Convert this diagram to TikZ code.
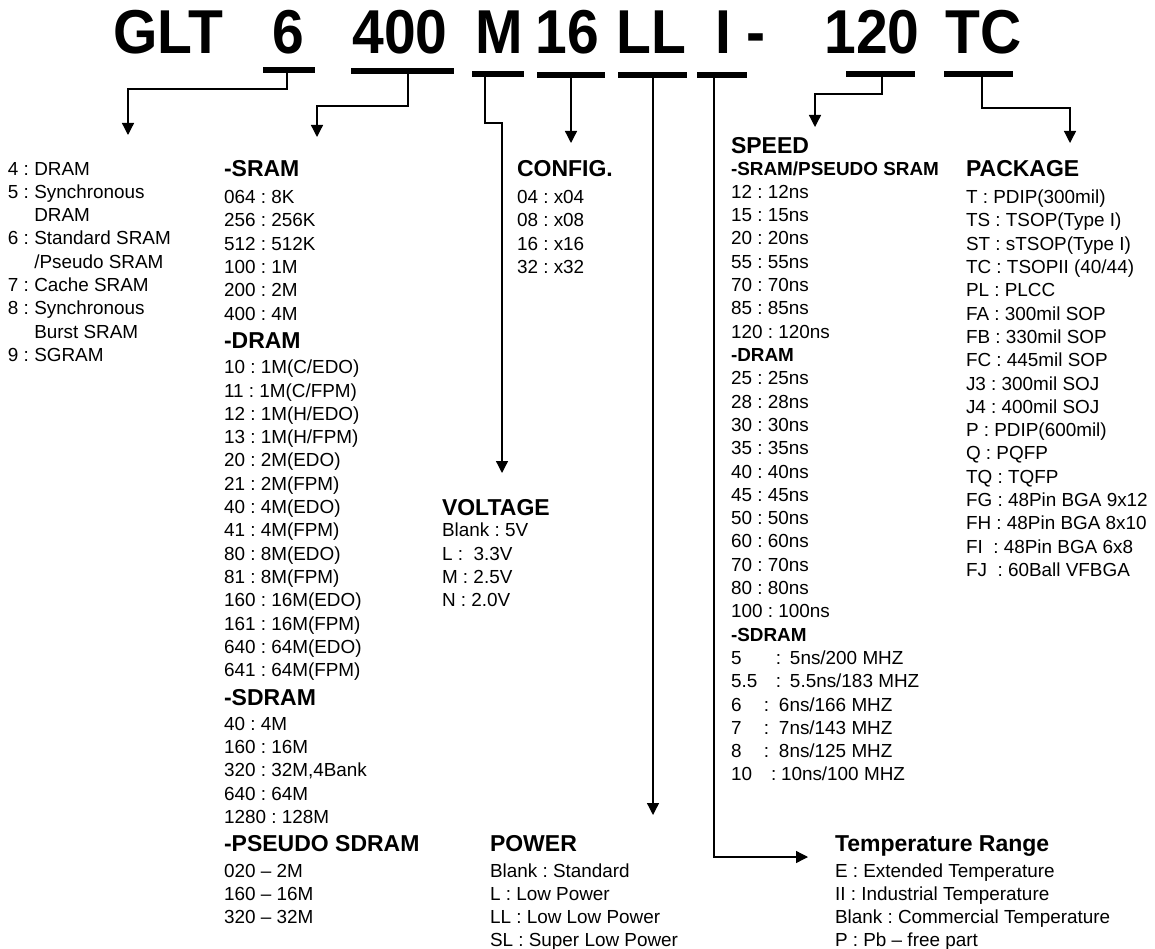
\documentclass[tikz,border=0pt]{standalone}
\usepackage{fontspec}
\setmainfont{Liberation Sans}
\usetikzlibrary{arrows.meta}
\begin{document}
\frenchspacing
\begin{tikzpicture}[x=1pt,y=-1pt,
  txt/.style={font=\fontsize{18.9}{22}\selectfont\frenchspacing, inner sep=0pt, outer sep=0pt, anchor=base west},
  hd/.style={font=\fontsize{23}{26}\selectfont\bfseries, inner sep=0pt, outer sep=0pt, anchor=base west},
  ttl/.style={font=\fontsize{62}{62}\selectfont\bfseries, inner sep=0pt, outer sep=0pt, anchor=base},
  bar/.style={rectangle, fill=black, draw=none, inner sep=0pt, outer sep=0pt, minimum height=6pt},
  conn/.style={line width=1.3pt, -{Triangle[width=12pt,length=12pt]}}]
\useasboundingbox (0,0) rectangle (1155,949);
\fill[white] (0,0) rectangle (1155,949);

% title
\node[ttl] (tGLT) at (168,54) {\scalebox{0.92}[1]{GLT}};
\node[ttl] (t6) at (288,54) {\scalebox{0.92}[1]{6}};
\node[ttl] (t400) at (400,54) {\scalebox{0.92}[1]{400}};
\node[ttl] (tM) at (499,54) {\scalebox{0.92}[1]{M}};
\node[ttl] (t16) at (567,54) {\scalebox{0.92}[1]{16}};
\node[ttl] (tLL) at (651,54) {\scalebox{0.92}[1]{LL}};
\node[ttl] (tI) at (723,54) {\scalebox{0.92}[1]{I}};
\node[ttl] (tdash) at (756,54) {\scalebox{0.92}[1]{-}};
\node[ttl] (t120) at (872,54) {\scalebox{0.92}[1]{120}};
\node[ttl] (tTC) at (984,54) {\scalebox{0.92}[1]{TC}};

% bars
\node[bar, minimum width=52pt] (b6) at (289,70) {};
\node[bar, minimum width=103pt] (b400) at (402.5,71) {};
\node[bar, minimum width=52pt] (bM) at (498,74) {};
\node[bar, minimum width=68pt] (b16) at (571,75.5) {};
\node[bar, minimum width=69pt] (bLL) at (652.5,75) {};
\node[bar, minimum width=50pt] (bI) at (722,75) {};
\node[bar, minimum width=69pt] (b120) at (880.5,74) {};
\node[bar, minimum width=69pt] (bTC) at (978.5,74) {};

% arrow targets
\coordinate (a6) at (128,135);
\coordinate (a400) at (317,137);
\coordinate (aV) at (502,473);
\coordinate (a16) at (571,143);
\coordinate (aP) at (653,815);
\coordinate (aT) at (808,857);
\coordinate (aS) at (815,127);
\coordinate (aK) at (1070,143);

\draw[conn] (b6.south) ++(-2,0) -- ++(0,16) -| (a6);
\draw[conn] (b400.south) ++(5.5,0) -- ++(0,32) -| (a400);
\draw[conn] (bM.south) ++(-13,0) -- ++(0,46) -| (aV);
\draw[conn] (b16.south) -- (a16);
\draw[conn] (bLL.south) ++(0.5,0) -- (aP);
\draw[conn] (bI.south) ++(-8,0) |- (aT);
\draw[conn] (b120.south) ++(1.5,0) -- ++(0,17) -| (aS);
\draw[conn] (bTC.south) ++(3.5,0) -- ++(0,31) -| (aK);

% type column
\foreach \s [count=\i from 0] in {4 : DRAM, 5 : Synchronous, \phantom{5 : }DRAM, 6 : Standard SRAM, \phantom{6 : }/Pseudo SRAM, 7 : Cache SRAM, 8 : Synchronous, \phantom{8 : }Burst SRAM, 9 : SGRAM}
  \node[txt] (typ\i) at (8,{175.1+\i*23.3}) {\s};

% density column
\node[hd] (hSRAM) at (224,176.7) {-SRAM};
\foreach \s [count=\i from 0] in {064 : 8K, 256 : 256K, 512 : 512K, 100 : 1M, 200 : 2M, 400 : 4M}
  \node[txt] (dA\i) at (224,{203.6+\i*23.3}) {\s};
\node[hd] (hDRAM) at (224,348.5) {-DRAM};
\foreach \s [count=\i from 0] in {10 : 1M(C/EDO), 11 : 1M(C/FPM), 12 : 1M(H/EDO), 13 : 1M(H/FPM), 20 : 2M(EDO), 21 : 2M(FPM), 40 : 4M(EDO), 41 : 4M(FPM), 80 : 8M(EDO), 81 : 8M(FPM), 160 : 16M(EDO), 161 : 16M(FPM), 640 : 64M(EDO), 641 : 64M(FPM)}
  \node[txt] (dB\i) at (224,{373.7+\i*23.3}) {\s};
\node[hd] (hSDRAM) at (224,705) {-SDRAM};
\foreach \s [count=\i from 0] in {40 : 4M, 160 : 16M, {320 : 32M,4Bank}, 640 : 64M, 1280 : 128M}
  \node[txt] (dC\i) at (224,{730.2+\i*23.3}) {\s};
\node[hd] (hPSD) at (224,851.8) {-PSEUDO SDRAM};
\foreach \s [count=\i from 0] in {020 – 2M, 160 – 16M, 320 – 32M}
  \node[txt] (dD\i) at (224,{877+\i*23.3}) {\s};

% config
\node[hd] (hCFG) at (517,176.7) {CONFIG.};
\foreach \s [count=\i from 0] in {04 : x04, 08 : x08, 16 : x16, 32 : x32}
  \node[txt] (cf\i) at (517,{203.6+\i*23.3}) {\s};

% voltage
\node[hd] (hVOL) at (442,515.1) {VOLTAGE};
\foreach \s [count=\i from 0] in {Blank : 5V, L : \ 3.3V, M : 2.5V, N : 2.0V}
  \node[txt] (vo\i) at (442,{536.8+\i*23.3}) {\s};

% power
\node[hd] (hPOW) at (490,851.8) {POWER};
\foreach \s [count=\i from 0] in {Blank : Standard, L : Low Power, LL : Low Low Power, SL : Super Low Power}
  \node[txt] (pw\i) at (490,{877+\i*23.3}) {\s};

% temperature
\node[hd] (hTMP) at (835,851.8) {Temperature Range};
\foreach \s [count=\i from 0] in {E : Extended Temperature, II : Industrial Temperature, Blank : Commercial Temperature, P : Pb – free part}
  \node[txt] (tp\i) at (835,{877+\i*23.3}) {\s};

% speed
\node[hd] (hSPD) at (731,153.2) {SPEED};
\foreach \s [count=\i from 0] in {\textbf{-SRAM/PSEUDO SRAM}, 12 : 12ns, 15 : 15ns, 20 : 20ns, 55 : 55ns, 70 : 70ns, 85 : 85ns, 120 : 120ns, \textbf{-DRAM}, 25 : 25ns, 28 : 28ns, 30 : 30ns, 35 : 35ns, 40 : 40ns, 45 : 45ns, 50 : 50ns, 60 : 60ns, 70 : 70ns, 80 : 80ns, 100 : 100ns, \textbf{-SDRAM},
  {\makebox[45pt][l]{5}\makebox[14pt][l]{:}5ns/200 MHZ},
  {\makebox[45pt][l]{5.5}\makebox[14pt][l]{:}5.5ns/183 MHZ},
  {\makebox[33pt][l]{6}\makebox[15pt][l]{:}6ns/166 MHZ},
  {\makebox[33pt][l]{7}\makebox[15pt][l]{:}7ns/143 MHZ},
  {\makebox[33pt][l]{8}\makebox[15pt][l]{:}8ns/125 MHZ},
  {\makebox[40pt][l]{10}\makebox[10pt][l]{:}10ns/100 MHZ}}
  \node[txt] (sp\i) at (731,{175.1+\i*23.3}) {\s};

% package
\node[hd] (hPKG) at (966,176.7) {PACKAGE};
\foreach \s [count=\i from 0] in {T : PDIP(300mil), TS : TSOP(Type I), ST : sTSOP(Type I), TC : TSOPII (40/44), PL : PLCC, FA : 300mil SOP, FB : 330mil SOP, FC : 445mil SOP, J3 : 300mil SOJ, J4 : 400mil SOJ, P : PDIP(600mil), Q : PQFP, TQ : TQFP, FG : 48Pin BGA 9x12, FH : 48Pin BGA 8x10, FI\ \ : 48Pin BGA 6x8, FJ\ \ : 60Ball VFBGA}
  \node[txt] (pk\i) at (966,{203.6+\i*23.3}) {\s};
\end{tikzpicture}
\end{document}
